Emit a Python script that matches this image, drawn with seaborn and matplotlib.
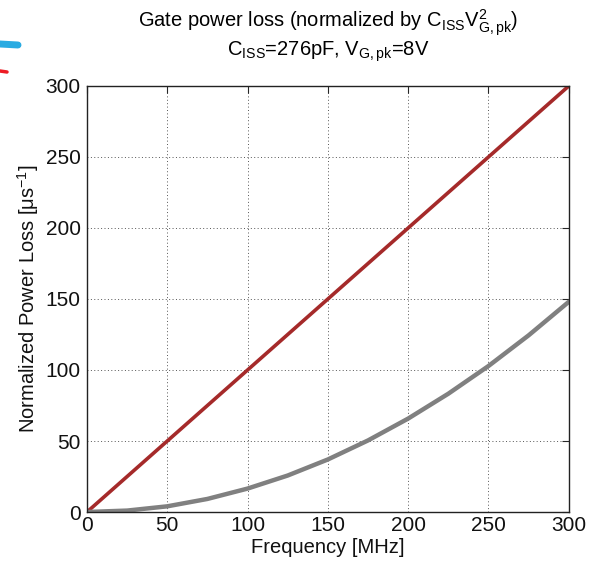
"""Gate power loss vs frequency, normalized by C_ISS * V_G,pk^2."""
import numpy as np
import pandas as pd
import seaborn as sns
import matplotlib.pyplot as plt
from matplotlib.lines import Line2D

# values
FREQ_MHZ = [0, 25, 50, 75, 100, 125, 150, 175, 200, 225, 250, 275, 300]
LOSS_RED = [0, 25, 50, 75, 100, 125, 150, 175, 200, 225, 250, 275, 300]
LOSS_GRAY = [0, 1.0, 4.0, 9.2, 16.5, 25.7, 37.0, 50.4, 65.8, 83.3, 102.8, 124.4, 148.0]

XTICKS = [0, 50, 100, 150, 200, 250, 300]
YTICKS = [0, 50, 100, 150, 200, 250, 300]

RED = '#a52a2a'
GRAY = '#808080'


def main():
    sns.set_style('white')
    plt.rcParams['font.family'] = ['Liberation Sans', 'DejaVu Sans']
    plt.rcParams['mathtext.fontset'] = 'custom'
    plt.rcParams['mathtext.rm'] = 'Liberation Sans'
    plt.rcParams['mathtext.it'] = 'Liberation Sans'

    df = pd.DataFrame({'freq': FREQ_MHZ, 'red': LOSS_RED, 'gray': LOSS_GRAY})

    fig = plt.figure(figsize=(5.97, 5.65), dpi=100)
    ax = fig.add_axes([0.1457, 0.0938, 0.807, 0.754])

    sns.lineplot(data=df, x='freq', y='red', ax=ax, color=RED, lw=2.6)
    sns.lineplot(data=df, x='freq', y='gray', ax=ax, color=GRAY, lw=3.2)

    ax.set_xlim(0, 300)
    ax.set_ylim(0, 300)
    ax.set_xticks(XTICKS)
    ax.set_yticks(YTICKS)
    ax.tick_params(direction='in', length=5, width=0.8, labelsize=15,
                   top=True, right=True, labelcolor='#111111')
    ax.tick_params(axis='x', pad=3)
    ax.tick_params(axis='y', pad=4.5)
    ax.grid(True, color='#555555', linestyle=(0, (1, 2.5)), lw=0.7)
    for s in ax.spines.values():
        s.set_color('#222222')
        s.set_linewidth(1.0)

    ax.set_xlabel('Frequency [MHz]', fontsize=14.5, labelpad=2, color='#111111')
    ax.set_ylabel(r'Normalized Power Loss [$\mathregular{\mu s^{-1}}$]', fontsize=14.5,
                  labelpad=3, color='#111111')
    ax.set_title('Gate power loss (normalized by C$\\mathregular{_{ISS}}$V$\\mathregular{^2_{G,pk}}$)\n'
                 'C$\\mathregular{_{ISS}}$=276pF, V$\\mathregular{_{G,pk}}$=8V',
                 fontsize=14.5, pad=22, linespacing=1.05, color='#000000')

    # stray marks in the upper left corner of the reference
    W, H = 597, 565
    fig.add_artist(Line2D([0 / W, 18 / W], [1 - 44 / H, 1 - 45 / H], color='#29abe2',
                          lw=5, solid_capstyle='round'))
    fig.add_artist(Line2D([0 / W, 7 / W], [1 - 71 / H, 1 - 72 / H], color='#ed1c24',
                          lw=2.5, solid_capstyle='round'))

    plt.savefig('out.png', dpi=100)
    plt.close()


if __name__ == '__main__':
    main()
